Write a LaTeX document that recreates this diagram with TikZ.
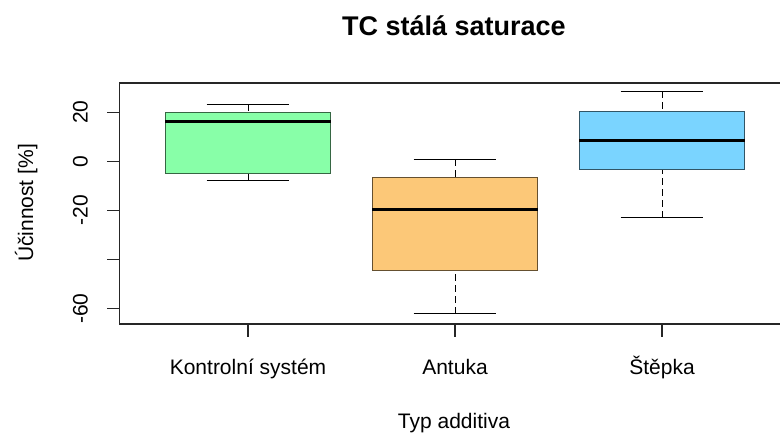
\documentclass[tikz,border=0pt]{standalone}
\usepackage{fontspec}
\setmainfont{Liberation Sans}
\definecolor{kontrola}{RGB}{136,255,168}
\definecolor{antuka}{RGB}{252,200,120}
\definecolor{stepka}{RGB}{122,212,255}

\begin{document}
\begin{tikzpicture}
        [x=1pt, y=-1pt,
         lab/.style={font=\fontsize{21}{25}\selectfont, inner sep=0pt},
         whisk/.style={black, line width=1pt, dash pattern=on 6.5pt off 4.5pt},
         capline/.style={black, line width=1pt},
         median/.style={black, line width=3pt},
         frame/.style={black!85, line width=1.2pt}]
        \useasboundingbox (0,0) rectangle (780,434);
        \clip (0,0) rectangle (780,434);
        % title and axis names
        \node[lab, font=\fontsize{27}{31}\selectfont\bfseries, anchor=base] (title) at (454,35) {TC stálá saturace};
        \node[lab, anchor=base] (xname) at (454,428) {Typ additiva};
        \node[lab, anchor=base, rotate=90] (yname) at (33,203) {Účinnost [\%]};
        \begin{scope}[shift={(41,161.3)}, x=207pt, y=2.4575pt]
          % boxes
          \foreach \i/\lo/\qa/\md/\qb/\hi/\col in {1/-7.7/-4.9/16.1/19.8/23.2/kontrola,
                                                  2/-62.1/-44.6/-19.5/-6.7/0.9/antuka,
                                                  3/-22.9/-3.5/8.5/20.3/28.6/stepka}
          {
            \draw[whisk] (\i,\lo) -- (\i,\qa);
            \draw[whisk] (\i,\hi) -- (\i,\qb);
            \draw[capline] (\i-0.2,\lo) -- (\i+0.2,\lo);
            \draw[capline] (\i-0.2,\hi) -- (\i+0.2,\hi);
            \draw[fill=\col, draw=\col!40!black, line width=1pt] (\i-0.4,\qa) rectangle (\i+0.4,\qb);
            \draw[median] (\i-0.4,\md) -- (\i+0.4,\md);
          }
          % axes
          \draw[frame] (0.38,-66.2) rectangle (3.62,31.9);
          \foreach \v in {-60,-40,-20,0,20}
            \draw[frame] (0.38,\v) -- ++(-13pt,0pt);
          \foreach \v in {-60,-20,0,20}
            \node[lab, rotate=90, anchor=south] (ytick\v) at (0.227,\v) {\v};
          \foreach \i/\name in {1/Kontrolní systém, 2/Antuka, 3/Štěpka}
          {
            \draw[frame] (\i,-66.2) -- ++(0pt,-13pt);
            \node[lab, anchor=base] (xtick\i) at (\i,-86.9) {\name};
          }
        \end{scope}
      \end{tikzpicture}
\end{document}
